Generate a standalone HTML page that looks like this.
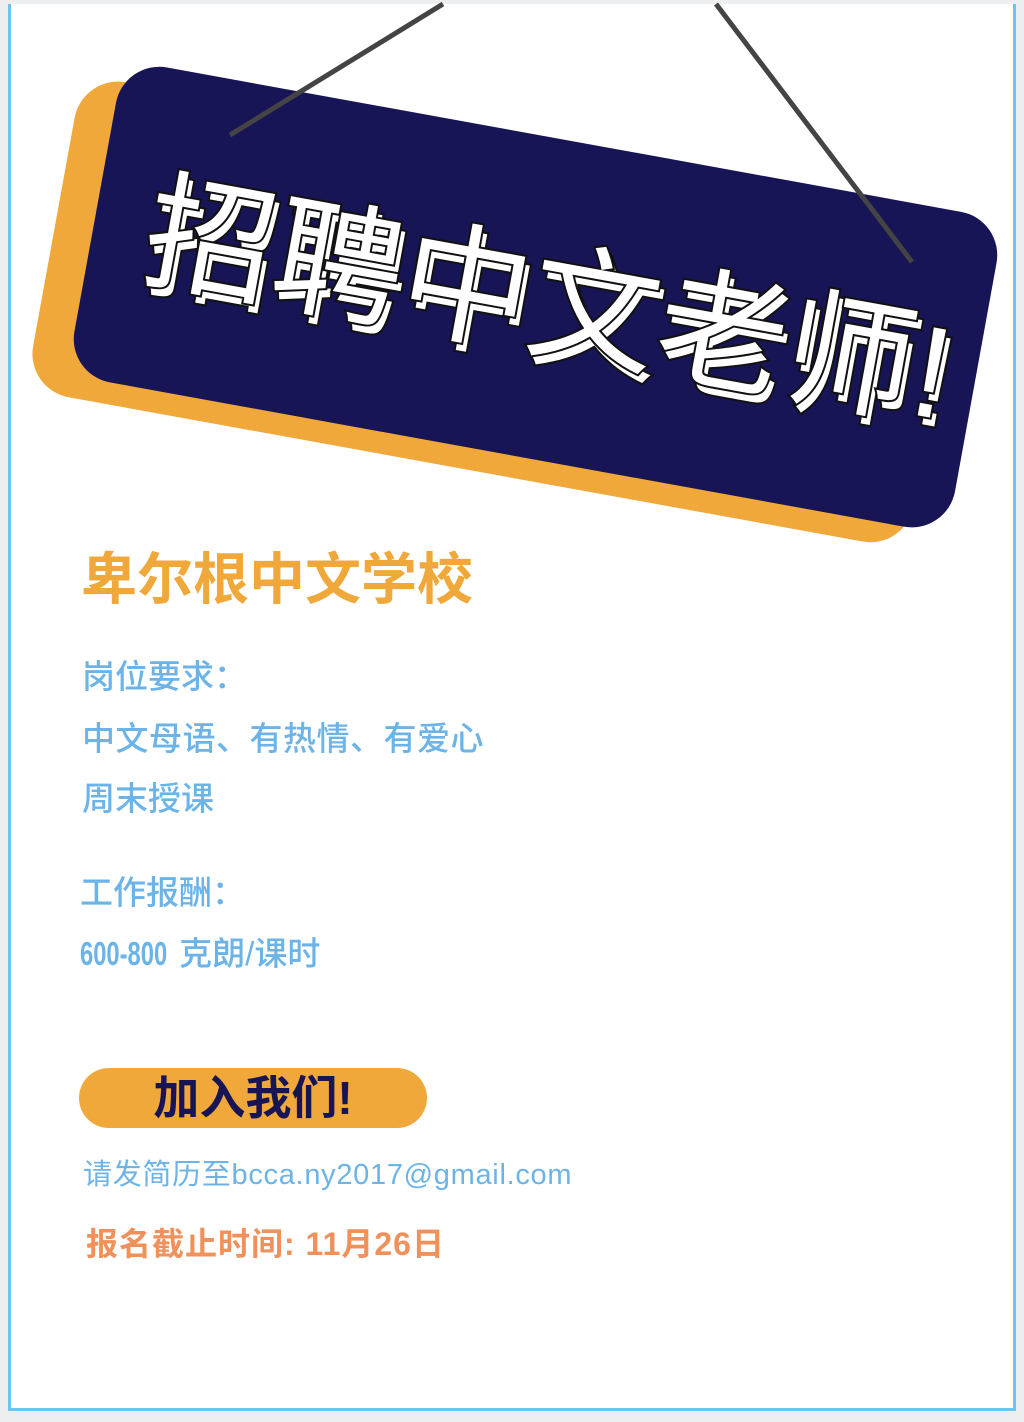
<!DOCTYPE html>
<html><head><meta charset="utf-8"><style>
html,body{margin:0;padding:0;}
body{width:1024px;height:1422px;position:relative;background:#eceef0;overflow:hidden;font-family:"Liberation Sans","Noto Sans CJK SC",sans-serif;}
#page{position:absolute;left:8px;top:4px;width:1008px;height:1407px;background:#fff;box-sizing:border-box;border-left:3px solid #6cc4ef;border-right:3px solid #6cc4ef;border-bottom:3px solid #6cc4ef;}
.t{position:absolute;white-space:nowrap;line-height:1;}
.blue{color:#6cb4e8;font-size:33px;font-weight:500;}
</style></head><body>
<div id="page"></div>
<svg width="1024" height="560" style="position:absolute;left:0;top:0">
  <g transform="translate(535,297) rotate(10.3)">
    <rect x="-485" y="-138" width="895" height="320" rx="44" fill="#f0a83a"/>
    <rect x="-447" y="-160" width="895" height="320" rx="44" fill="#181556"/>
    <text x="20" y="56" text-anchor="middle" font-family="'Liberation Sans','Noto Sans CJK SC',sans-serif" font-size="130" fill="#fff" stroke="#111" stroke-width="4" paint-order="stroke">招聘中文老师!</text>
    <text x="14" y="48" text-anchor="middle" font-family="'Liberation Sans','Noto Sans CJK SC',sans-serif" font-size="130" fill="#fff" stroke="#111" stroke-width="4" paint-order="stroke">招聘中文老师!</text>
  </g>
  <line x1="230" y1="135" x2="443" y2="4" stroke="#444" stroke-width="5"/>
  <line x1="716" y1="4" x2="912" y2="262" stroke="#444" stroke-width="5"/>
</svg>
<div class="t" style="left:81px;top:552px;font-size:56px;font-weight:bold;color:#f0a83a;">卑尔根中文学校</div>
<div class="t blue" style="left:82px;top:660px;">岗位要求：</div>
<div class="t blue" style="left:82px;top:722px;letter-spacing:0.5px;">中文母语、有热情、有爱心</div>
<div class="t blue" style="left:82px;top:782px;">周末授课</div>
<div class="t blue" style="left:80px;top:876px;">工作报酬：</div>
<div class="t blue" style="left:80px;top:937px;"><span style="display:inline-block;transform:scaleX(0.72);transform-origin:left;width:90px;font-weight:bold;">600-800</span> 克朗/课时</div>
<div style="position:absolute;left:79px;top:1068px;width:348px;height:60px;border-radius:30px;background:#f0a83a;"></div>
<div class="t" style="left:79px;width:348px;text-align:center;top:1075px;font-size:46px;font-weight:bold;color:#181556;">加入我们!</div>
<div class="t" style="left:83px;top:1161px;font-size:29px;letter-spacing:0.7px;color:#6cb4e8;">请发简历至bcca.ny2017@gmail.com</div>
<div class="t" style="left:86px;top:1228px;font-size:32px;font-weight:bold;letter-spacing:1px;color:#f0905a;">报名截止时间: 11月26日</div>
</body></html>
